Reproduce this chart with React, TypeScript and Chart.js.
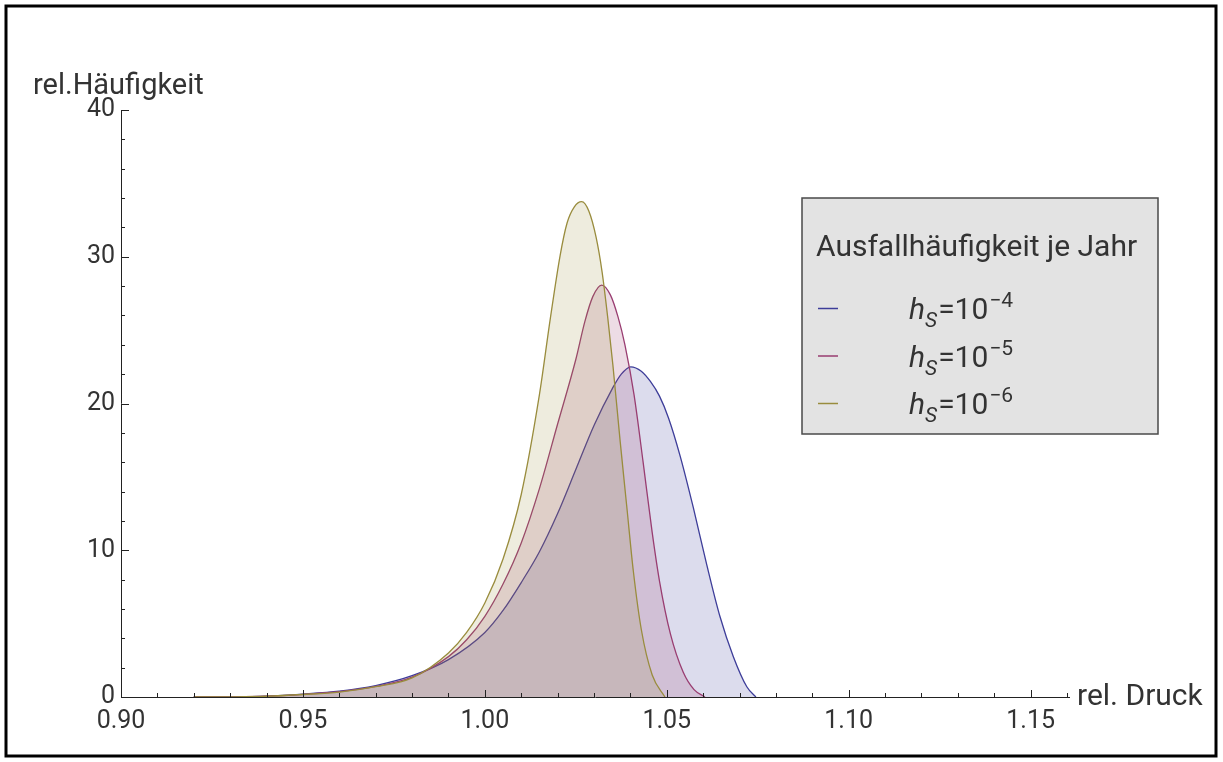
import { useEffect, useRef } from 'react';
import { Chart, registerables } from 'chart.js';

Chart.register(...registerables);

// ---------- data ----------
const xTickValues = [0.9, 0.95, 1.0, 1.05, 1.1, 1.15];
const yTickValues = [0, 10, 20, 30, 40];

// h_S = 10^-4
const xBlue = [0.92, 0.93, 0.94, 0.95, 0.96, 0.97, 0.98, 0.99, 1.0, 1.005, 1.01, 1.015, 1.02, 1.025, 1.03, 1.035, 1.0375, 1.0401, 1.043, 1.0455, 1.048, 1.0505, 1.0537, 1.0573, 1.061, 1.0646, 1.0683, 1.072, 1.0745];
const yBlue = [0, 0.01, 0.06, 0.2, 0.4, 0.78, 1.45, 2.55, 4.4, 5.9, 7.8, 9.9, 12.5, 15.5, 18.5, 21.0, 22.0, 22.5, 22.2, 21.5, 20.5, 19.0, 16.4, 12.9, 9.0, 5.5, 2.75, 0.7, 0];

// h_S = 10^-5
const xRed = [0.92, 0.93, 0.94, 0.95, 0.96, 0.97, 0.98, 0.99, 0.995, 1.0, 1.005, 1.01, 1.015, 1.02, 1.025, 1.0275, 1.0297, 1.0321, 1.0345, 1.0366, 1.0385, 1.041, 1.0435, 1.046, 1.048, 1.051, 1.0545, 1.0575, 1.0605];
const yRed = [0, 0.01, 0.05, 0.18, 0.36, 0.72, 1.35, 2.75, 3.9, 5.5, 7.7, 10.5, 14.2, 18.6, 23.0, 25.6, 27.3, 28.07, 27.4, 25.9, 24.0, 20.6, 16.0, 11.2, 7.9, 4.3, 1.7, 0.5, 0];

// h_S = 10^-6
const xYellow = [0.92, 0.93, 0.94, 0.95, 0.96, 0.97, 0.98, 0.99, 0.995, 1.0, 1.005, 1.01, 1.015, 1.018, 1.0207, 1.0226, 1.0246, 1.0266, 1.0286, 1.0306, 1.0322, 1.0338, 1.0352, 1.0372, 1.039, 1.0408, 1.043, 1.046, 1.0495];
const yYellow = [0, 0.01, 0.05, 0.17, 0.33, 0.7, 1.3, 3.0, 4.4, 6.4, 9.4, 13.8, 20.6, 25.8, 30.1, 32.3, 33.4, 33.75, 33.1, 31.3, 29.0, 25.8, 22.6, 17.4, 13.0, 8.6, 4.6, 1.5, 0];

const seriesExponents = ['−4', '−5', '−6'];
const legendTitle = 'Ausfallhäufigkeit je Jahr';
const xAxisTitle = 'rel. Druck';
const yAxisTitle = 'rel.Häufigkeit';

const lineColors = ['#3d3d99', '#993d71', '#998c3d'];
const fillColors = ['rgba(61,61,153,0.18)', 'rgba(153,61,113,0.18)', 'rgba(153,140,61,0.17)'];

const FONT = 'Roboto, "Open Sans", sans-serif';
const TEXT = '#333333';

const toPoints = (xs: number[], ys: number[]) => xs.map((x, i) => ({ x, y: ys[i] }));

const decorPlugin = {
  id: 'decor',
  afterDatasetsDraw(chart: any) {
    const ctx = chart.ctx as CanvasRenderingContext2D;
    const xs = chart.scales.x;
    const ys = chart.scales.y;
    const x0 = xs.getPixelForValue(0.9);
    const xEnd = xs.getPixelForValue(1.16);
    const y0 = ys.getPixelForValue(0);
    const yTop = ys.getPixelForValue(40);
    ctx.save();
    ctx.strokeStyle = '#222';
    ctx.lineWidth = 1;
    // axes
    ctx.beginPath();
    ctx.moveTo(x0, y0 + 0.5);
    ctx.lineTo(xEnd + 3, y0 + 0.5);
    ctx.moveTo(x0 + 0.5, y0);
    ctx.lineTo(x0 + 0.5, yTop);
    ctx.stroke();
    // x ticks
    ctx.beginPath();
    for (let i = 0; i <= 26; i++) {
      const v = 0.9 + i * 0.01;
      const px = Math.round(xs.getPixelForValue(v)) + 0.5;
      const len = i % 5 === 0 ? 7 : 4;
      ctx.moveTo(px, y0);
      ctx.lineTo(px, y0 - len);
    }
    // y ticks
    for (let v = 0; v <= 40; v += 2) {
      const py = Math.round(ys.getPixelForValue(v)) + 0.5;
      const len = v % 10 === 0 ? 8 : 4;
      ctx.moveTo(x0, py);
      ctx.lineTo(x0 + len, py);
    }
    ctx.stroke();

    // axis titles
    ctx.fillStyle = TEXT;
    ctx.font = `29px ${FONT}`;
    ctx.textBaseline = 'alphabetic';
    ctx.textAlign = 'left';
    ctx.fillText(yAxisTitle, 33, 94);
    ctx.textBaseline = 'middle';
    ctx.font = `30px ${FONT}`;
    ctx.fillText(xAxisTitle, 1077, y0);

    // legend box
    const bx = 802, by = 198, bw = 356, bh = 236;
    ctx.fillStyle = '#e3e3e3';
    ctx.fillRect(bx, by, bw, bh);
    ctx.strokeStyle = '#4a4a4a';
    ctx.lineWidth = 1.5;
    ctx.strokeRect(bx, by, bw, bh);
    ctx.fillStyle = TEXT;
    ctx.textBaseline = 'alphabetic';
    ctx.font = `30px ${FONT}`;
    ctx.fillText(legendTitle, 816, 256);
    seriesExponents.forEach((ex, i) => {
      const base = 319 + i * 47.5;
      ctx.strokeStyle = lineColors[i];
      ctx.lineWidth = 1.5;
      ctx.beginPath();
      ctx.moveTo(818, base - 10.5);
      ctx.lineTo(838, base - 10.5);
      ctx.stroke();
      let x = 909;
      ctx.fillStyle = TEXT;
      ctx.font = `italic 30px ${FONT}`;
      ctx.fillText('h', x, base);
      x += ctx.measureText('h').width;
      ctx.font = `italic 21px ${FONT}`;
      ctx.fillText('S', x, base + 8);
      x += ctx.measureText('S').width + 1;
      ctx.font = `30px ${FONT}`;
      ctx.fillText('=10', x, base);
      x += ctx.measureText('=10').width + 1;
      ctx.font = `21px ${FONT}`;
      ctx.fillText(ex, x, base - 12);
    });

    // outer frame
    ctx.strokeStyle = '#000';
    ctx.lineWidth = 3;
    ctx.strokeRect(6, 6, 1210, 750);
    ctx.restore();
  },
};

export default function App() {
  const ref = useRef<HTMLCanvasElement>(null);
  useEffect(() => {
    const series = [
      { xs: xBlue, ys: yBlue },
      { xs: xRed, ys: yRed },
      { xs: xYellow, ys: yYellow },
    ];
    // yellow first in the list so that it is painted last (on top), like the original
    const order = [2, 1, 0];
    const chart = new Chart(ref.current!, {
      type: 'line',
      data: {
        datasets: order.map((i) => ({
          label: `h_S=10^${seriesExponents[i]}`,
          data: toPoints(series[i].xs, series[i].ys),
          borderColor: lineColors[i],
          backgroundColor: fillColors[i],
          borderWidth: 1.3,
          pointRadius: 0,
          fill: 'origin',
          cubicInterpolationMode: 'monotone',
        })),
      },
      options: {
        responsive: false,
        animation: false,
        layout: { padding: { left: 0, top: 110, right: 156, bottom: 0 } },
        plugins: { legend: { display: false }, tooltip: { enabled: false } },
        scales: {
          x: {
            type: 'linear',
            min: 0.9,
            max: 1.16,
            afterBuildTicks: (s: any) => {
              s.ticks = xTickValues.map((v) => ({ value: v }));
            },
            afterFit: (s: any) => {
              s.height = 65;
            },
            grid: { display: false, drawTicks: false },
            border: { display: false },
            ticks: {
              padding: 10,
              color: TEXT,
              font: { family: FONT, size: 25 },
              maxRotation: 0,
              autoSkip: false,
              callback: (v: any) => Number(v).toFixed(2),
            },
          },
          y: {
            type: 'linear',
            min: 0,
            max: 40,
            afterBuildTicks: (s: any) => {
              s.ticks = yTickValues.map((v) => ({ value: v }));
            },
            afterFit: (s: any) => {
              s.width = 121;
            },
            grid: { display: false, drawTicks: false },
            border: { display: false },
            ticks: {
              padding: 6,
              color: TEXT,
              font: { family: FONT, size: 25 },
              autoSkip: false,
            },
          },
        },
      },
      plugins: [decorPlugin],
    });
    return () => chart.destroy();
  }, []);
  return (
    <div style={{ position: 'fixed', left: 0, top: 0, width: 1223, height: 762, background: '#fff' }}>
      <canvas ref={ref} width={1223} height={762} style={{ width: 1223, height: 762, display: 'block' }} />
    </div>
  );
}
